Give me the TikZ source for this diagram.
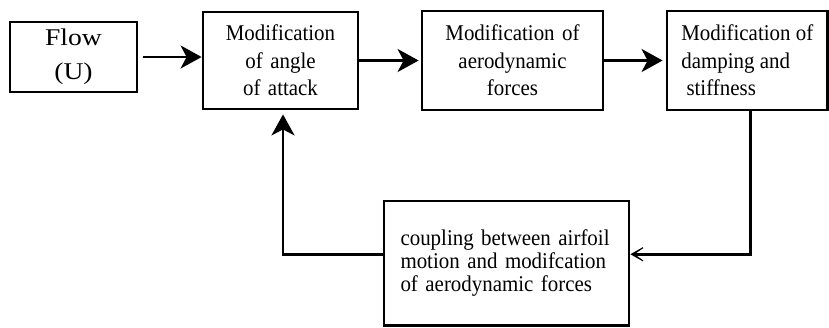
\documentclass[tikz,border=0pt]{standalone}
\usepackage{fontspec}
\setmainfont[FakeStretch=0.93]{Liberation Serif}
\newfontfamily\flowfont[FakeStretch=1.15]{Liberation Serif}
\usetikzlibrary{arrows.meta}

\begin{document}
\begin{tikzpicture}[x=1pt, y=-1pt,
	blk/.style={draw, line width=2.8pt, inner sep=0pt, font=\fontsize{22.5}{27.5}\selectfont},
	arr/.style={-{Stealth[length=21pt, width=23pt, inset=6pt]}, line width=2.8pt},
	openarr/.style={-{Stealth[length=22pt, width=25pt, inset=18pt]}, line width=2.8pt}]
	\useasboundingbox (0,0) rectangle (829,327);

	\node [blk, minimum width=127pt, minimum height=70pt, align=center,
		font=\flowfont\fontsize{24}{34}\selectfont] (flow) at (73.5,57) {Flow\\(U)};
	\node [blk, minimum width=155pt, minimum height=97pt, text width=120pt, align=center] (angle) at (280.5,60.5)
		{Modification\\of angle\\of attack};
	\node [blk, minimum width=181pt, minimum height=99pt, text width=150pt, align=center] (forces) at (512.5,60.5)
		{Modification of\\aerodynamic\\forces};
	\node [blk, minimum width=160.5pt, minimum height=99pt, align=left] (stiff) at (747.25,60.5)
		{Modification of\\damping and\\\ stiffness};
	\node [blk, minimum width=245pt, minimum height=124.5pt, text width=212pt, align=left,
		font=\fontsize{22.5}{23}\selectfont] (coupling) at (506.5,263.25)
		{coupling between airfoil\\motion and modifcation\\of aerodynamic forces};

	\draw [arr, shorten <=5pt] (flow.east) -- (flow.east -| angle.west);
	\draw [arr, shorten >=2pt] (angle) -- (forces);
	\draw [arr, shorten >=3pt] (forces) -- (stiff);
	\draw [openarr] ([xshift=3pt]stiff.south) |- ([yshift=9pt]coupling.east);
	\draw [arr, shorten >=4pt] ([yshift=9pt]coupling.west) -| ([xshift=2.5pt]angle.south);
\end{tikzpicture}
\end{document}
